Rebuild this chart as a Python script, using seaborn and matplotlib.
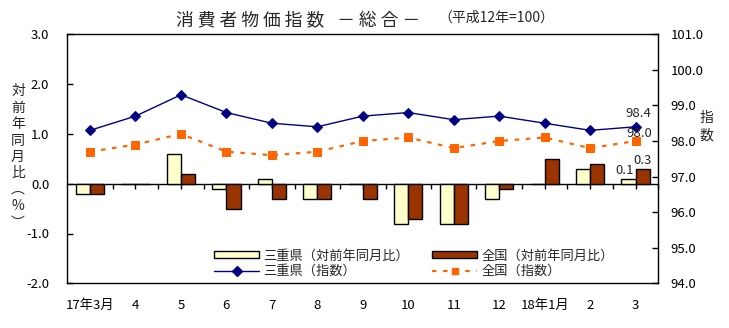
import numpy as np
import pandas as pd
import matplotlib
matplotlib.use("Agg")
import matplotlib.pyplot as plt
import seaborn as sns
from matplotlib.patches import Patch
from matplotlib.lines import Line2D
from matplotlib.ticker import NullFormatter

months = ["17年3月", "4", "5", "6", "7", "8", "9", "10", "11", "12", "18年1月", "2", "3"]
mie_yoy = [-0.2, 0.0, 0.6, -0.1, 0.1, -0.3, 0.0, -0.8, -0.8, -0.3, 0.0, 0.3, 0.1]
zen_yoy = [-0.2, 0.0, 0.2, -0.5, -0.3, -0.3, -0.3, -0.7, -0.8, -0.1, 0.5, 0.4, 0.3]
mie_idx = [98.3, 98.7, 99.3, 98.8, 98.5, 98.4, 98.7, 98.8, 98.6, 98.7, 98.5, 98.3, 98.4]
zen_idx = [97.7, 97.9, 98.2, 97.7, 97.6, 97.7, 98.0, 98.1, 97.8, 98.0, 98.1, 97.8, 98.0]

lab_mie_yoy = "三重県（対前年同月比）"
lab_zen_yoy = "全国（対前年同月比）"
lab_mie_idx = "三重県（指数）"
lab_zen_idx = "全国（指数）"

sns.set_theme(style="white")
plt.rcParams["font.family"] = ["Noto Sans CJK JP", "DejaVu Sans"]

C_MIE_BAR = "#FFFFCC"
C_ZEN_BAR = "#993300"
C_MIE_LINE = "#000080"
C_ZEN_LINE = "#FF6600"

df = pd.DataFrame({
    "month": months * 2,
    "value": mie_yoy + zen_yoy,
    "series": [lab_mie_yoy] * len(months) + [lab_zen_yoy] * len(months),
})

fig = plt.figure(figsize=(7.29, 3.28), dpi=100)
ax = fig.add_axes([67.3 / 729, 1 - 283.3 / 328, (658.3 - 67.3) / 729, (283.3 - 34.3) / 328])

sns.barplot(data=df, x="month", y="value", hue="series", order=months,
            hue_order=[lab_mie_yoy, lab_zen_yoy],
            palette=[C_MIE_BAR, C_ZEN_BAR], width=0.62, edgecolor="black",
            linewidth=1.0, saturation=1, legend=False, ax=ax)

ax.set_xlim(-0.5, len(months) - 0.5)
ax.set_ylim(-2.0, 3.0)
ax.set_yticks(np.arange(-2.0, 3.01, 1.0))
ax.set_yticklabels([f"{v:.1f}" for v in np.arange(-2.0, 3.01, 1.0)], fontsize=9.5)
ax.tick_params(axis="y", direction="in", length=4, width=1, pad=13, colors="black")
ax.tick_params(axis="x", length=0, pad=11, labelsize=9.5, colors="black")
ax.set_xlabel("")
ax.set_ylabel("")
for s in ax.spines.values():
    s.set_visible(True)
    s.set_color("black")
    s.set_linewidth(1.0)

# zero line with ticks
sec = ax.secondary_xaxis(0.4)
sec.set_xticks(np.arange(0, len(months) - 0.4, 0.5))
sec.xaxis.set_major_formatter(NullFormatter())
sec.xaxis.set_ticks_position("bottom")
sec.tick_params(axis="x", direction="out", length=3.5, width=1, colors="black")
sec.spines["bottom"].set_color("black")
sec.spines["bottom"].set_linewidth(1.0)

ax2 = ax.twinx()
xs = np.arange(len(months))
sns.lineplot(x=xs, y=mie_idx, ax=ax2, color=C_MIE_LINE, linewidth=1.0,
             marker="D", markersize=5.5, markeredgecolor=C_MIE_LINE, legend=False)
sns.lineplot(x=xs, y=zen_idx, ax=ax2, color=C_ZEN_LINE, linewidth=1.6,
             linestyle=(0, (2, 3)), marker="s", markersize=5.5,
             markeredgecolor=C_ZEN_LINE, legend=False)
ax2.set_ylim(94.0, 101.0)
ax2.set_yticks(np.arange(94.0, 101.01, 1.0))
ax2.set_yticklabels([f"{v:.1f}" for v in np.arange(94.0, 101.01, 1.0)], fontsize=9.5)
ax2.tick_params(axis="y", direction="in", length=4, width=1, pad=9, colors="black")
ax2.set_xlim(-0.5, len(months) - 0.5)
ax2.grid(False)
ax.grid(False)
for s in ax2.spines.values():
    s.set_visible(False)

# annotations on last values
n = len(months) - 1
ax2.annotate(f"{mie_idx[n]:.1f}", xy=(n, mie_idx[n]), xytext=(2, 5),
             textcoords="offset points", ha="center", va="bottom", fontsize=9.5)
ax2.annotate(f"{zen_idx[n]:.1f}", xy=(n, zen_idx[n]), xytext=(3, 1),
             textcoords="offset points", ha="center", va="bottom", fontsize=9.5)
ax.annotate(f"{mie_yoy[n]:.1f}", xy=(n - 0.155, mie_yoy[n]), xytext=(-3, 1),
            textcoords="offset points", ha="center", va="bottom", fontsize=9.5)
ax.annotate(f"{zen_yoy[n]:.1f}", xy=(n + 0.155, zen_yoy[n]), xytext=(0, 1),
            textcoords="offset points", ha="center", va="bottom", fontsize=9.5)

handles = [
    Patch(facecolor=C_MIE_BAR, edgecolor="black", linewidth=1.0),
    Line2D([], [], color=C_MIE_LINE, marker="D", markersize=5, linewidth=1.0),
    Patch(facecolor=C_ZEN_BAR, edgecolor="black", linewidth=1.0),
    Line2D([], [], color=C_ZEN_LINE, marker="s", markersize=5, linewidth=1.6,
           linestyle=(0, (2, 3))),
]
labels = [lab_mie_yoy, lab_mie_idx, lab_zen_yoy, lab_zen_idx]
leg = ax2.legend(handles, labels, ncol=2, frameon=False, fontsize=9.5,
                 loc="lower left", bbox_to_anchor=(0.235, -0.01),
                 handlelength=3.4, handleheight=0.5, labelspacing=0.2,
                 columnspacing=1.8, handletextpad=0.3, borderaxespad=0.2)

fig.text(18 / 729, 1 - 157 / 328, "対\n前\n年\n同\n月\n比\n︵\n%\n︶", ha="center", va="center",
         fontsize=10, linespacing=1.22)
fig.text(706 / 729, 1 - 127 / 328, "指\n数", ha="center", va="center",
         fontsize=10, linespacing=1.3)

fig.text(176 / 729, 1 - 21 / 328, "消 費 者 物 価 指 数 \u2002－ 総 合 －", ha="left", va="center",
         fontsize=12.8)
fig.text(438 / 729, 1 - 18 / 328, "（平成12年=100）", ha="left", va="center", fontsize=10)

fig.savefig("out.png", dpi=100)
